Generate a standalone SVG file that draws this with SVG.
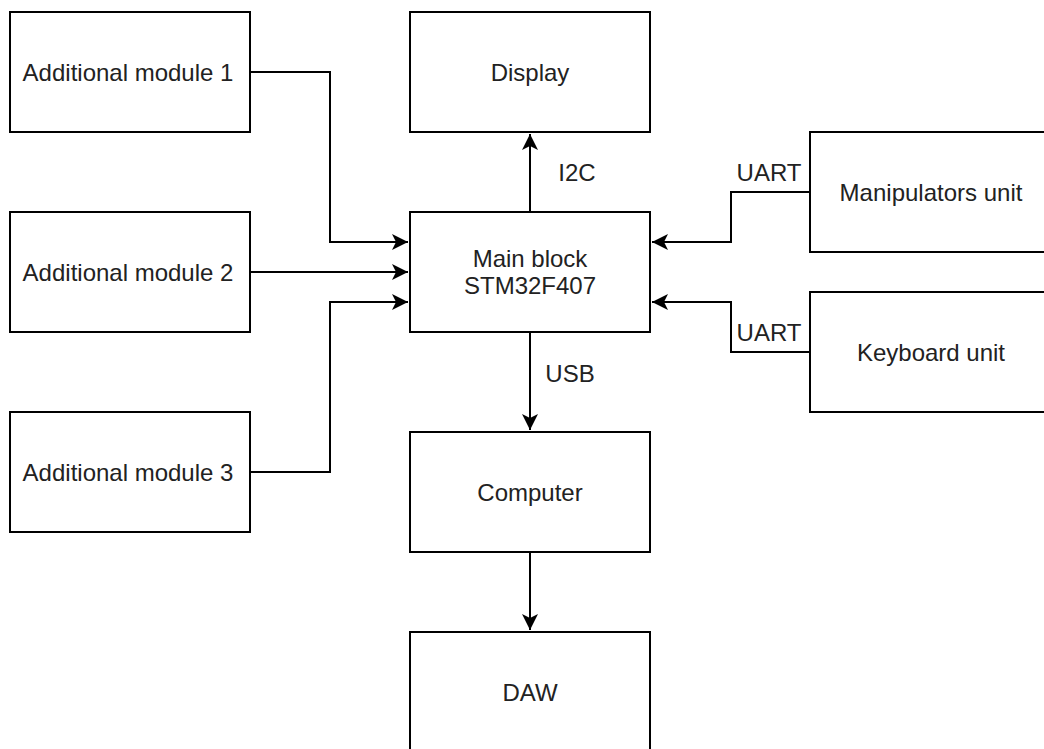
<svg xmlns="http://www.w3.org/2000/svg" width="1044" height="749" viewBox="0 0 1044 749">
<defs>
<style>
.box{fill:#fff;stroke:#000;stroke-width:2}
.t{font-family:"Liberation Sans",Arial,sans-serif;font-size:24px;fill:#222;text-anchor:middle}
.c{fill:none;stroke:#000;stroke-width:2}
</style>
<marker id="arr" markerUnits="userSpaceOnUse" markerWidth="18" markerHeight="16" refX="16" refY="8" orient="auto">
<path d="M0,0 L16,8 L0,16 L4,8 Z" fill="#000"/>
</marker>
</defs>
<rect width="1044" height="749" fill="#fff"/>
<g id="connectors">
<path class="c" d="M250,72 H330 V242 H408" marker-end="url(#arr)"/>
<path class="c" d="M250,272 H408" marker-end="url(#arr)"/>
<path class="c" d="M250,472 H330 V302 H408" marker-end="url(#arr)"/>
<path class="c" d="M530,212 V134" marker-end="url(#arr)"/>
<path class="c" d="M530,332 V430" marker-end="url(#arr)"/>
<path class="c" d="M530,552 V630" marker-end="url(#arr)"/>
<path class="c" d="M810,192 H731 V242 H652" marker-end="url(#arr)"/>
<path class="c" d="M810,352 H731 V302 H652" marker-end="url(#arr)"/>
<text class="t" x="577" y="181">I2C</text>
<text class="t" x="570" y="382">USB</text>
<text class="t" x="769" y="181">UART</text>
<text class="t" x="769" y="341">UART</text>
</g>
<g id="mod1"><rect class="box" x="10" y="12" width="240" height="120"/><text class="t" x="128" y="81">Additional module 1</text></g>
<g id="mod2"><rect class="box" x="10" y="212" width="240" height="120"/><text class="t" x="128" y="281">Additional module 2</text></g>
<g id="mod3"><rect class="box" x="10" y="412" width="240" height="120"/><text class="t" x="128" y="481">Additional module 3</text></g>
<g id="display"><rect class="box" x="410" y="12" width="240" height="120"/><text class="t" x="530" y="81">Display</text></g>
<g id="main"><rect class="box" x="410" y="212" width="240" height="120"/><text class="t" x="530" y="267">Main block</text><text class="t" x="530" y="294">STM32F407</text></g>
<g id="computer"><rect class="box" x="410" y="432" width="240" height="120"/><text class="t" x="530" y="501">Computer</text></g>
<g id="daw"><rect class="box" x="410" y="632" width="240" height="120"/><text class="t" x="530" y="701">DAW</text></g>
<g id="manip"><rect class="box" x="810" y="132" width="240" height="120"/><text class="t" x="931" y="201">Manipulators unit</text></g>
<g id="keyboard"><rect class="box" x="810" y="292" width="240" height="120"/><text class="t" x="931" y="361">Keyboard unit</text></g>
</svg>
